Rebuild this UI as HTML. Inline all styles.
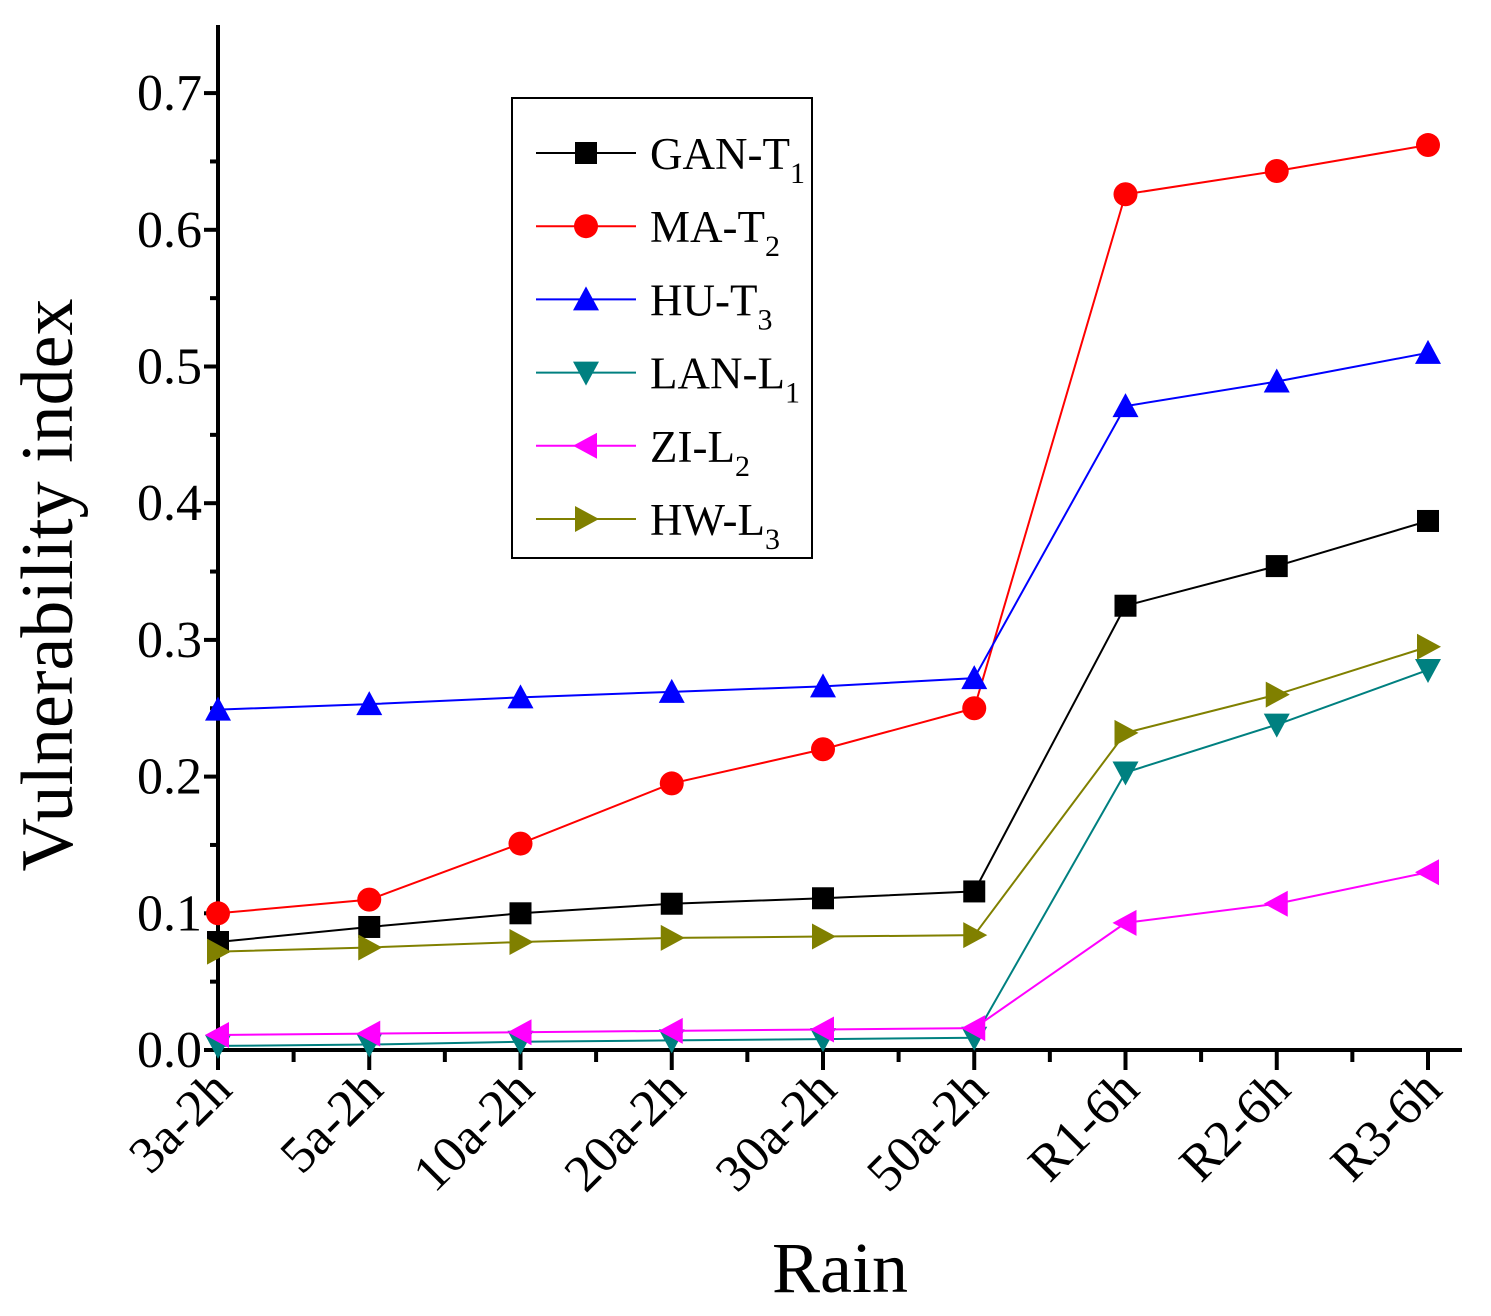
<!DOCTYPE html>
<html><head><meta charset="utf-8"><style>
body{margin:0;background:#fff}
svg text{font-family:"Liberation Serif",serif}
</style></head><body>
<svg id="c" width="1491" height="1311" viewBox="0 0 1491 1311" xmlns="http://www.w3.org/2000/svg"></svg>
<script>
const categories=["3a-2h","5a-2h","10a-2h","20a-2h","30a-2h","50a-2h","R1-6h","R2-6h","R3-6h"];
const seriesNames=["GAN-T","MA-T","HU-T","LAN-L","ZI-L","HW-L"];
const seriesSubs=["1","2","3","1","2","3"];
const ganT1=[0.079,0.090,0.100,0.107,0.111,0.116,0.325,0.354,0.387];
const maT2=[0.100,0.110,0.151,0.195,0.220,0.250,0.626,0.643,0.662];
const huT3=[0.249,0.253,0.258,0.262,0.266,0.272,0.471,0.489,0.510];
const lanL1=[0.003,0.004,0.006,0.007,0.008,0.009,0.203,0.238,0.278];
const ziL2=[0.011,0.012,0.013,0.014,0.015,0.016,0.093,0.107,0.130];
const hwL3=[0.072,0.075,0.079,0.082,0.083,0.084,0.232,0.260,0.295];
const yTicks=["0.0","0.1","0.2","0.3","0.4","0.5","0.6","0.7"];
const series=[ganT1,maT2,huT3,lanL1,ziL2,hwL3];
const colors=["#000","#f00","#00f","#008080","#f0f","#808000"];
const markers=["square","circle","up","down","left","right"];
const NS="http://www.w3.org/2000/svg";
const svg=document.getElementById("c");
const X0=218,X1=1462,Y0=1050,Ytop=25;
const xs=i=>X0+i*151.25;
const ys=v=>Y0-v*1367;
function el(t,a,p){const e=document.createElementNS(NS,t);for(const k in a)e.setAttribute(k,a[k]);(p||svg).appendChild(e);return e;}
function marker(type,x,y,c,g){
  const s=11;let e;
  if(type==="square")e=el("rect",{x:x-s,y:y-s,width:2*s,height:2*s,fill:c},g);
  else if(type==="circle")e=el("circle",{cx:x,cy:y,r:s+1,fill:c},g);
  else{let p;
    if(type==="up")p=[[x,y-s-2],[x+s+2,y+s],[x-s-2,y+s]];
    if(type==="down")p=[[x,y+s+2],[x+s+2,y-s],[x-s-2,y-s]];
    if(type==="left")p=[[x-s-2,y],[x+s,y-s-2],[x+s,y+s+2]];
    if(type==="right")p=[[x+s+2,y],[x-s,y-s-2],[x-s,y+s+2]];
    e=el("polygon",{points:p.map(q=>q.join(",")).join(" "),fill:c},g);}
  
  
}
const ax=el("g",{});


el("line",{x1:X0,y1:Ytop,x2:X0,y2:Y0+2,stroke:"#000","stroke-width":4},ax);
el("line",{x1:X0-2,y1:Y0,x2:X1,y2:Y0,stroke:"#000","stroke-width":4},ax);
yTicks.forEach((t,i)=>{const v=parseFloat(t),y=ys(v);
  el("line",{x1:X0-14,y1:y,x2:X0,y2:y,stroke:"#000","stroke-width":4},ax);
  const ym=ys(v+0.05); if(ym>Ytop) el("line",{x1:X0-8,y1:ym,x2:X0,y2:ym,stroke:"#000","stroke-width":4},ax);
  const tx=el("text",{x:X0-16,y:y+17,"font-size":52,"text-anchor":"end"},ax);tx.textContent=t;
  
  
});
categories.forEach((c,i)=>{const x=xs(i);
  el("line",{x1:x,y1:Y0,x2:x,y2:Y0+20,stroke:"#000","stroke-width":4},ax);
  if(i<categories.length-1)el("line",{x1:x+75.6,y1:Y0,x2:x+75.6,y2:Y0+12,stroke:"#000","stroke-width":4},ax);
  const tx=el("text",{x:x+16,y:Y0+42,"font-size":52,"text-anchor":"end",transform:`rotate(-45 ${x+16} ${Y0+42})`},ax);tx.textContent=c;
  
  
});
let t=el("text",{x:840,y:1292,"font-size":72,"text-anchor":"middle"});t.textContent="Rain";


t=el("text",{x:0,y:0,"font-size":74,"text-anchor":"middle",transform:"translate(72 585) rotate(-90)"});t.textContent="Vulnerability index";


series.forEach((d,si)=>{
  const g=el("g",{});
  
  
  el("polyline",{points:d.map((v,i)=>xs(i)+","+ys(v)).join(" "),fill:"none",stroke:colors[si],"stroke-width":2},g);
  d.forEach((v,i)=>marker(markers[si],xs(i),ys(v),colors[si],g));
});
const lg=el("g",{});


el("rect",{x:512,y:98,width:300,height:460,fill:"#fff",stroke:"#000","stroke-width":2},lg);
seriesNames.forEach((n,i)=>{const y=153+i*73.2;
  const g=el("g",{},lg);
  
  
  el("line",{x1:536,y1:y,x2:636,y2:y,stroke:colors[i],"stroke-width":2},g);
  marker(markers[i],586,y,colors[i],g);
  const tx=el("text",{x:650,y:y+16,"font-size":45},g);
  tx.textContent=n;
  const ts=el("tspan",{"font-size":30,dy:14},tx);ts.textContent=seriesSubs[i];
});
</script>
</body></html>
